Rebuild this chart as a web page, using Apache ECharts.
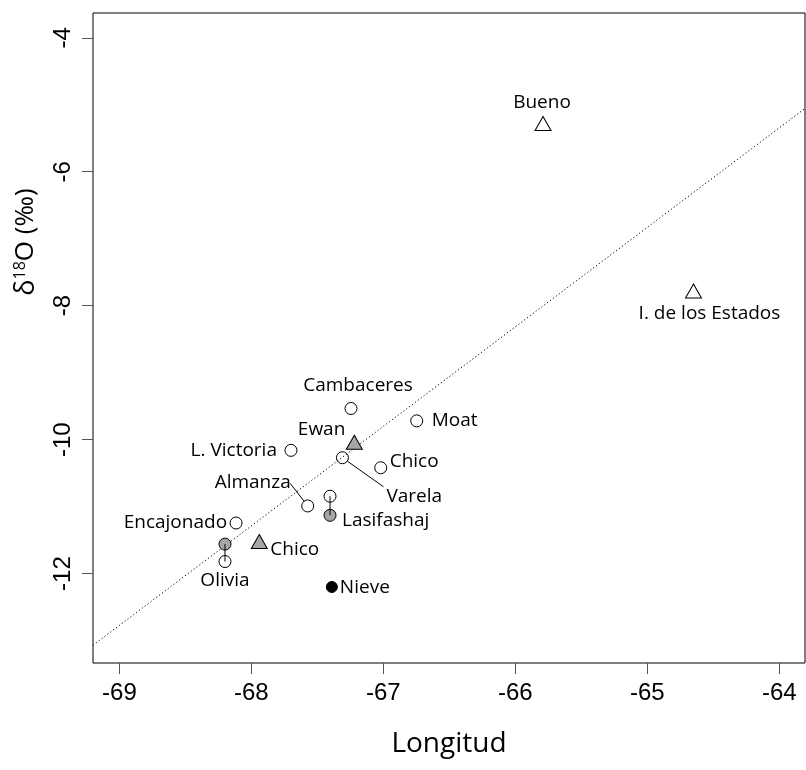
<!DOCTYPE html>
<html>
<head>
<meta charset="utf-8">
<script src="https://cdn.jsdelivr.net/npm/echarts@6/dist/echarts.min.js"></script>
<style>
  html, body { margin: 0; padding: 0; background: #fff; }
  #chart { width: 806px; height: 770px; }
</style>
</head>
<body>
<div id="chart"></div>
<script>
// δ18O (‰) against longitude, one group of arrays per symbol type
const openCircleNames = ['Cambaceres', 'Moat', 'L. Victoria', 'Varela', 'Chico', 'Almanza', 'Lasifashaj', 'Encajonado', 'Olivia'];
const openCircleLon   = [-67.245, -66.747, -67.70, -67.31, -67.02, -67.573, -67.404, -68.116, -68.20];
const openCircleD18O  = [-9.535, -9.72, -10.16, -10.27, -10.42, -10.99, -10.845, -11.245, -11.82];

const grayCircleNames = ['Lasifashaj', 'Olivia'];
const grayCircleLon   = [-67.404, -68.20];
const grayCircleD18O  = [-11.13, -11.56];

const blackCircleNames = ['Nieve'];
const blackCircleLon   = [-67.39];
const blackCircleD18O  = [-12.2];

const openTriangleNames = ['Bueno', 'I. de los Estados'];
const openTriangleLon   = [-65.79, -64.65];
const openTriangleD18O  = [-5.28, -7.78];

const grayTriangleNames = ['Ewan', 'Chico'];
const grayTriangleLon   = [-67.22, -67.94];
const grayTriangleD18O  = [-10.04, -11.52];

// Fitted trend line, given by its two ends at the plot edges
const trendLon  = [-69.2, -63.805];
const trendD18O = [-13.07, -5.055];

const xTicks = [-69, -68, -67, -66, -65, -64];
const yTicks = [-12, -10, -8, -6, -4];

// Where each site name sits relative to its symbol (pixels)
const labelPlacement = {
  'open:Cambaceres':  { align: 'center', offset: [7, -23] },
  'open:Moat':        { align: 'left',   offset: [15, 0] },
  'open:L. Victoria': { align: 'right',  offset: [-14, 0] },
  'open:Varela':      { align: 'left',   offset: [44, 39] },
  'open:Chico':       { align: 'left',   offset: [9, -6] },
  'open:Almanza':     { align: 'right',  offset: [-17, -23] },
  'open:Encajonado':  { align: 'right',  offset: [-9, 0] },
  'open:Olivia':      { align: 'center', offset: [0, 19] },
  'gray:Lasifashaj':  { align: 'left',   offset: [12, 5] },
  'black:Nieve':      { align: 'left',   offset: [8, 1] },
  'otri:Bueno':       { align: 'center', offset: [-1, -21] },
  'otri:I. de los Estados': { align: 'center', offset: [16, 23] },
  'gtri:Ewan':        { align: 'right',  offset: [-9, -13] },
  'gtri:Chico':       { align: 'left',   offset: [11, 8] }
};

const LABEL_FONT = 'Open Sans';
const AXIS_FONT = 'Liberation Sans';
const GRAY = '#a6a6a6';

function points(key, names, lons, vals) {
  return names.map((n, i) => {
    const p = labelPlacement[key + ':' + n];
    return {
      name: n,
      value: [lons[i], vals[i]],
      label: p ? { show: true, align: p.align, offset: p.offset } : { show: false }
    };
  });
}

function scatterSeries(key, names, lons, vals, symbol, size, fill) {
  return {
    type: 'scatter',
    symbol: symbol,
    symbolSize: size,
    data: points(key, names, lons, vals),
    itemStyle: { color: fill, borderColor: '#000', borderWidth: 1, opacity: 1 },
    label: {
      position: 'inside',
      verticalAlign: 'middle',
      formatter: '{b}',
      color: '#000',
      fontFamily: LABEL_FONT,
      fontSize: 19
    },
    emphasis: { disabled: true },
    silent: true,
    z: 3
  };
}

// Vertical segments joining the paired open / grey samples of the same site
const pairSeries = grayCircleNames.map((n, i) => {
  const j = openCircleNames.indexOf(n);
  return {
    type: 'line',
    data: [[openCircleLon[j], openCircleD18O[j]], [grayCircleLon[i], grayCircleD18O[i]]],
    symbol: 'none',
    lineStyle: { color: '#000', width: 1 },
    silent: true,
    z: 4
  };
});

const chart = echarts.init(document.getElementById('chart'), null, { renderer: 'canvas' });

chart.setOption({
  animation: false,
  backgroundColor: '#fff',
  grid: {
    left: 93, top: 13, right: 1, bottom: 107,
    show: true, borderColor: '#000', borderWidth: 1, backgroundColor: 'transparent'
  },
  xAxis: {
    type: 'value',
    min: trendLon[0], max: trendLon[1],
    axisLine: { show: false, onZero: false },
    splitLine: { show: false },
    axisTick: { show: true, customValues: xTicks, length: 11, lineStyle: { color: '#555', width: 1 } },
    axisLabel: { customValues: xTicks, fontFamily: AXIS_FONT, fontSize: 24, color: '#000', margin: 18 },
    name: 'Longitud',
    nameLocation: 'middle',
    nameGap: 67,
    nameTextStyle: { fontFamily: LABEL_FONT, fontSize: 28, color: '#000' }
  },
  yAxis: {
    type: 'value',
    min: -13.335, max: -3.63,
    axisLine: { show: false, onZero: false },
    splitLine: { show: false },
    axisTick: { show: true, customValues: yTicks, length: 11, lineStyle: { color: '#555', width: 1 } },
    axisLabel: { customValues: yTicks, rotate: 90, fontFamily: AXIS_FONT, fontSize: 24, color: '#000', margin: 18 },
    name: '{d|δ}{s|18}{o|O (‰)}',
    nameLocation: 'middle',
    nameRotate: 90,
    nameGap: 53,
    nameTextStyle: {
      color: '#000',
      padding: [0, 0, 0, 192],
      rich: {
        d: { fontFamily: LABEL_FONT, fontSize: 27, color: '#000' },
        s: { fontFamily: LABEL_FONT, fontSize: 16, color: '#000', padding: [0, 0, 12, 0] },
        o: { fontFamily: LABEL_FONT, fontSize: 26, color: '#000' }
      }
    }
  },
  series: [
    {
      type: 'line',
      data: trendLon.map((x, i) => [x, trendD18O[i]]),
      symbol: 'none',
      lineStyle: { color: '#000', width: 1, type: [1.2, 2.4] },
      silent: true,
      z: 2
    },
    scatterSeries('open', openCircleNames, openCircleLon, openCircleD18O, 'circle', 12, 'rgba(255,255,255,0)'),
    scatterSeries('gray', grayCircleNames, grayCircleLon, grayCircleD18O, 'circle', 12, GRAY),
    scatterSeries('black', blackCircleNames, blackCircleLon, blackCircleD18O, 'circle', 11, '#000'),
    scatterSeries('otri', openTriangleNames, openTriangleLon, openTriangleD18O, 'triangle', [16, 14], 'rgba(255,255,255,0)'),
    scatterSeries('gtri', grayTriangleNames, grayTriangleLon, grayTriangleD18O, 'triangle', [16, 14], GRAY)
  ].concat(pairSeries)
});

// Leader lines from two symbols out to their displaced names
function leader(name, from, to) {
  const i = openCircleNames.indexOf(name);
  const c = chart.convertToPixel({ gridIndex: 0 }, [openCircleLon[i], openCircleD18O[i]]);
  return {
    type: 'line',
    silent: true,
    z: 10,
    shape: { x1: c[0] + from[0], y1: c[1] + from[1], x2: c[0] + to[0], y2: c[1] + to[1] },
    style: { stroke: '#000', lineWidth: 1 }
  };
}

chart.setOption({
  graphic: [
    leader('Varela', [5, 3.5], [41, 29]),
    leader('Almanza', [-3.5, -4.5], [-17.5, -22.5])
  ]
});
</script>
</body>
</html>
